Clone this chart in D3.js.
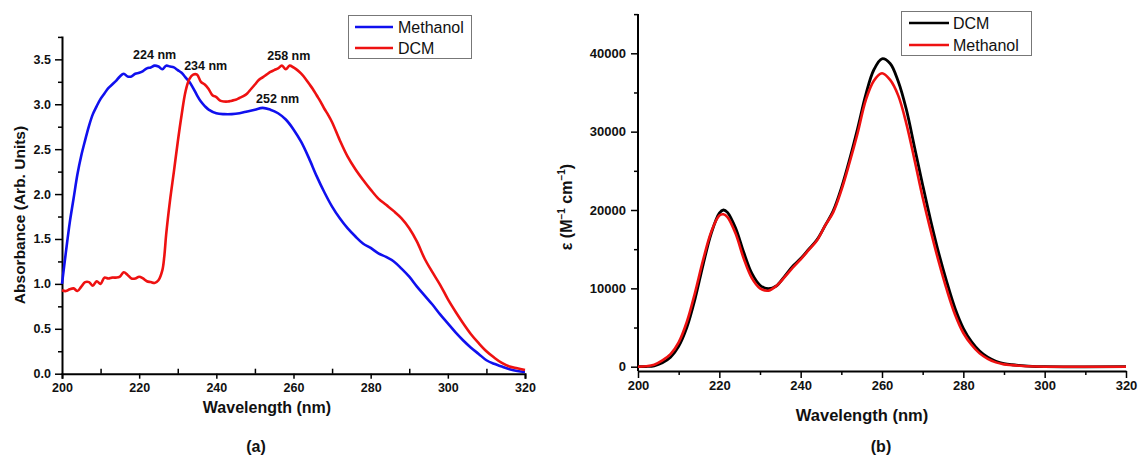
<!DOCTYPE html>
<html><head><meta charset="utf-8">
<script src="https://cdn.jsdelivr.net/npm/d3@7"></script>
<style>body{margin:0;background:#fff}svg{display:block}text{font-family:"Liberation Sans",Arial,sans-serif}</style>
</head><body>
<svg id="c" width="1141" height="461"></svg>
<script>
// ---- Panel (a): absorbance ----
const methanolA_nm = [200,201,202,203,204,205,206,207,208,209,210,211,212,213,214,215,216,217,218,219,220,221,222,223,224,225,226,227,228,229,230,231,232,233,234,235,236,237,238,240,242,244,246,248,250,252,254,256,258,260,262,264,266,268,270,272,274,276,278,280,282,284,286,288,290,292,294,296,298,300,302,304,306,308,310,312,314,316,318,320];
const methanolA_abs = [1.00,1.35,1.68,1.95,2.22,2.43,2.60,2.76,2.89,2.98,3.06,3.12,3.18,3.22,3.26,3.31,3.34,3.31,3.31,3.34,3.35,3.37,3.40,3.41,3.43,3.42,3.39,3.43,3.42,3.41,3.38,3.35,3.30,3.25,3.18,3.10,3.03,2.98,2.94,2.90,2.89,2.89,2.90,2.92,2.94,2.96,2.94,2.90,2.83,2.72,2.58,2.40,2.20,2.02,1.86,1.73,1.62,1.53,1.45,1.40,1.34,1.30,1.25,1.17,1.08,0.97,0.87,0.77,0.66,0.56,0.46,0.37,0.29,0.22,0.15,0.11,0.08,0.05,0.03,0.02];
const dcmA_nm = [200,201,202,203,204,205,206,207,208,209,210,211,212,213,214,215,216,217,218,219,220,221,222,223,224,225,226,226.5,227,228,229,230,231,232,233,234,235,236,237,238,239,240,241,242,243,244,245,246,247,248,249,250,251,252,253,254,255,256,257,258,259,260,261,262,263,264,265,266,267,268,269,270,272,274,276,278,280,282,284,286,288,290,292,294,296,298,300,302,304,306,308,310,312,314,316,318,320];
const dcmA_abs = [0.93,0.92,0.94,0.95,0.92,0.97,1.02,1.02,0.98,1.03,1.00,1.07,1.06,1.07,1.07,1.08,1.13,1.10,1.06,1.06,1.08,1.06,1.03,1.02,1.01,1.04,1.15,1.30,1.55,1.93,2.25,2.58,2.88,3.14,3.28,3.33,3.33,3.25,3.22,3.17,3.10,3.08,3.04,3.03,3.03,3.04,3.05,3.07,3.09,3.12,3.17,3.22,3.27,3.30,3.33,3.36,3.38,3.40,3.43,3.39,3.43,3.41,3.38,3.34,3.29,3.23,3.17,3.10,3.03,2.95,2.88,2.80,2.60,2.42,2.28,2.16,2.05,1.95,1.88,1.81,1.73,1.62,1.47,1.28,1.13,0.99,0.83,0.69,0.56,0.44,0.34,0.25,0.18,0.12,0.08,0.06,0.04];
const peakLabelsA = [{t:"224 nm",nm:224,v:3.43,dx:0,dy:-7},{t:"234 nm",nm:234,v:3.33,dx:12.5,dy:-5},{t:"258 nm",nm:258,v:3.43,dx:3,dy:-6},{t:"252 nm",nm:252,v:2.96,dx:15,dy:-4.5}];
const xTicksA = [200,220,240,260,280,300,320];
const yTicksA = [0,0.5,1.0,1.5,2.0,2.5,3.0,3.5];

// ---- Panel (b): molar absorptivity ----
const dcmE_nm = [200,202,204,206,208,210,212,214,216,218,220,221,222,224,226,228,230,232,234,236,238,240,242,244,246,248,250,252,254,256,258,260,262,264,266,268,270,272,274,276,278,280,282,284,286,288,290,292,296,300,320];
const dcmE_eps = [0,20,120,500,1200,2600,5000,8600,13000,17000,19600,20000,19700,17700,14600,11900,10400,9950,10300,11500,12800,13800,15000,16200,18000,19900,22800,26400,30400,34700,37900,39300,38700,36400,32800,28000,23200,18600,14400,10700,7400,4900,3200,2000,1200,700,400,250,80,0,0];
const methE_nm = [200,202,204,206,208,210,212,214,216,218,220,221,222,224,226,228,230,232,234,236,238,240,242,244,246,248,250,252,254,256,258,260,262,264,266,268,270,272,274,276,278,280,282,284,286,288,290,292,296,300,320];
const methE_eps = [0,50,250,800,1600,3100,5700,9400,13600,17200,19300,19450,19100,17000,13800,11300,10000,9700,10300,11400,12600,13700,14900,16100,18000,19700,22500,26000,29800,34000,36500,37450,36600,34600,31000,26400,21600,17300,13300,9700,6600,4300,2800,1700,1000,550,300,200,50,0,0];
const xTicksB = [200,220,240,260,280,300,320];
const yTicksB = [0,10000,20000,30000,40000];

const svg = d3.select("#c");
const F = '"Liberation Sans",Arial,sans-serif';

// ===== Panel (a) =====
const xa = d3.scaleLinear().domain([200,320]).range([62,525]);
const ya = d3.scaleLinear().domain([0,3.76]).range([373.7,36]);
const ga = svg.append("g");

const xMinorA = d3.range(210,320,20);
ga.append("g").attr("transform","translate(0,373.7)")
  .call(d3.axisBottom(xa).tickValues(xMinorA).tickSize(-5).tickFormat(""))
  .call(g=>g.select(".domain").remove())
  .call(g=>g.selectAll(".tick line").attr("stroke-width",1.5));
ga.append("g").attr("transform","translate(0,373.7)")
  .call(d3.axisBottom(xa).tickValues(xTicksA).tickSize(5).tickPadding(4).tickFormat(d3.format("d")))
  .call(g=>g.select(".domain").attr("stroke-width",2))
  .call(g=>g.selectAll(".tick line").attr("stroke-width",1.5))
  .call(g=>g.selectAll("text").attr("font-size",12.5).attr("font-weight","bold").attr("font-family",F).attr("fill","#111"));
const yMinorA = d3.range(0.25,3.76,0.5);
ga.append("g").attr("transform","translate(62,0)")
  .call(d3.axisLeft(ya).tickValues(yMinorA).tickSize(4).tickFormat(""))
  .call(g=>g.select(".domain").remove())
  .call(g=>g.selectAll(".tick line").attr("stroke-width",1.5));
ga.append("g").attr("transform","translate(62,0)")
  .call(d3.axisLeft(ya).tickValues(yTicksA).tickSize(7).tickPadding(4).tickSizeOuter(0).tickFormat(d3.format(".1f")))
  .call(g=>g.select(".domain").attr("stroke-width",2))
  .call(g=>g.selectAll(".tick line").attr("stroke-width",1.5))
  .call(g=>g.selectAll("text").attr("font-size",12.5).attr("font-weight","bold").attr("font-family",F).attr("fill","#111"));

const lineA = (nm,v)=> d3.line().x((d,i)=>xa(nm[i])).y(d=>ya(d)).curve(d3.curveCatmullRom)(v);
ga.append("path").attr("d",lineA(methanolA_nm,methanolA_abs)).attr("fill","none").attr("stroke","#1010ee").attr("stroke-width",2.6);
ga.append("path").attr("d",lineA(dcmA_nm,dcmA_abs)).attr("fill","none").attr("stroke","#ee1111").attr("stroke-width",2.6);

ga.selectAll(".pk").data(peakLabelsA).join("text")
  .attr("x",d=>xa(d.nm)+d.dx).attr("y",d=>ya(d.v)+d.dy)
  .attr("text-anchor","middle").attr("font-size",12.5).attr("font-weight","bold").attr("fill","#111").text(d=>d.t);

ga.append("text").attr("x",267).attr("y",413).attr("text-anchor","middle").attr("font-size",16).attr("font-weight","bold").attr("fill","#111").text("Wavelength (nm)");
ga.append("text").attr("transform","translate(25,215) rotate(-90)").attr("text-anchor","middle").attr("font-size",15.5).attr("font-weight","bold").attr("fill","#111").text("Absorbance (Arb. Units)");
ga.append("text").attr("x",256).attr("y",452).attr("text-anchor","middle").attr("font-size",16).attr("font-weight","bold").attr("font-family","'Liberation Serif',serif").attr("fill","#111").text("(a)");

const legA = ga.append("g");
legA.append("rect").attr("x",348.5).attr("y",15.5).attr("width",123).attr("height",43).attr("fill","#fff").attr("stroke","#777").attr("stroke-width",1);
[["Methanol","#1010ee",27],["DCM","#ee1111",48]].forEach(([t,c,y])=>{
  legA.append("line").attr("x1",355).attr("x2",393).attr("y1",y).attr("y2",y).attr("stroke",c).attr("stroke-width",2.6);
  legA.append("text").attr("x",398).attr("y",y+6).attr("font-size",16).attr("fill","#111").text(t);
});

// ===== Panel (b) =====
const xb = d3.scaleLinear().domain([200,320]).range([638,1126]);
const yb = d3.scaleLinear().domain([0,40000]).range([366.7,53.3]);
const yBottom = 371, yTop = 14;
const gb = svg.append("g");
gb.append("g").attr("transform",`translate(0,${yBottom})`)
  .call(d3.axisBottom(xb).tickValues(d3.range(210,320,20)).tickSize(4).tickFormat(""))
  .call(g=>g.select(".domain").remove())
  .call(g=>g.selectAll(".tick line").attr("stroke-width",1.5));
gb.append("g").attr("transform",`translate(0,${yBottom})`)
  .call(d3.axisBottom(xb).tickValues(xTicksB).tickSize(7).tickPadding(3).tickSizeOuter(0).tickFormat(d3.format("d")))
  .call(g=>g.select(".domain").attr("stroke-width",2))
  .call(g=>g.selectAll(".tick line").attr("stroke-width",1.5))
  .call(g=>g.selectAll("text").attr("font-size",13).attr("font-weight","bold").attr("font-family",F).attr("fill","#111"));
gb.append("g").attr("transform","translate(638,0)")
  .call(d3.axisLeft(yb).tickValues(d3.range(5000,45001,10000)).tickSize(4).tickFormat(""))
  .call(g=>g.select(".domain").remove())
  .call(g=>g.selectAll(".tick line").attr("stroke-width",1.5));
gb.append("g").attr("transform","translate(638,0)")
  .call(d3.axisLeft(yb).tickValues(yTicksB).tickSize(7).tickPadding(5).tickSizeOuter(0).tickFormat(d3.format("d")))
  .call(g=>g.select(".domain").attr("d",`M0,${yBottom}V${yTop}`).attr("stroke-width",2))
  .call(g=>g.selectAll(".tick line").attr("stroke-width",1.5))
  .call(g=>g.selectAll("text").attr("font-size",13).attr("font-weight","bold").attr("font-family",F).attr("fill","#111"));

const lineB = (nm,v)=> d3.line().x((d,i)=>xb(nm[i])).y(d=>yb(d)).curve(d3.curveCatmullRom.alpha(0.5))(v);
gb.append("path").attr("d",lineB(dcmE_nm,dcmE_eps)).attr("fill","none").attr("stroke","#000").attr("stroke-width",2.8);
gb.append("path").attr("d",lineB(methE_nm,methE_eps)).attr("fill","none").attr("stroke","#ee1111").attr("stroke-width",2.6);

gb.append("text").attr("x",862).attr("y",421).attr("text-anchor","middle").attr("font-size",16.5).attr("font-weight","bold").attr("fill","#111").text("Wavelength (nm)");
gb.append("text").attr("x",881).attr("y",452).attr("text-anchor","middle").attr("font-size",16).attr("font-weight","bold").attr("font-family","'Liberation Serif',serif").attr("fill","#111").text("(b)");
const yl = gb.append("text").attr("transform","translate(572,207) rotate(-90)").attr("text-anchor","middle").attr("font-size",16).attr("font-weight","bold").attr("fill","#111");
yl.append("tspan").text("ε (M");
yl.append("tspan").attr("font-size",10).attr("dy",-7).text("−1");
yl.append("tspan").attr("dy",7).text(" cm");
yl.append("tspan").attr("font-size",10).attr("dy",-7).text("−1");
yl.append("tspan").attr("dy",7).text(")");

const legB = gb.append("g");
legB.append("rect").attr("x",901.5).attr("y",11.5).attr("width",130).attr("height",44).attr("fill","#fff").attr("stroke","#777").attr("stroke-width",1);
[["DCM","#000",23],["Methanol","#ee1111",45]].forEach(([t,c,y])=>{
  legB.append("line").attr("x1",909).attr("x2",949).attr("y1",y).attr("y2",y).attr("stroke",c).attr("stroke-width",2.6);
  legB.append("text").attr("x",953).attr("y",y+6).attr("font-size",16).attr("fill","#111").text(t);
});
</script>
</body></html>
